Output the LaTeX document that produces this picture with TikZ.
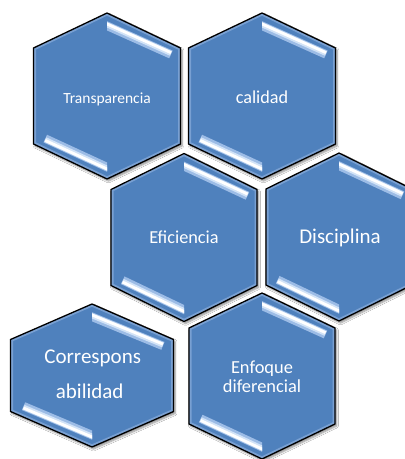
\documentclass[tikz,border=0pt]{standalone}
\usepackage{fontspec}
\setmainfont{Carlito}
\usetikzlibrary{shadows.blur}
\definecolor{hexblue}{HTML}{4F81BD}
\definecolor{rimblue}{HTML}{8CAEDC}
\definecolor{stripeA}{HTML}{9CBCE6}
\definecolor{stripeB}{HTML}{D2E3F7}
\tikzset{
  hexfill/.style={fill=hexblue, blur shadow={shadow xshift=1.5pt, shadow yshift=-2pt, shadow blur steps=6, shadow opacity=45}},
  hexrim/.style={draw=rimblue, line width=5pt, opacity=0.7},
  hexline/.style={draw=black, line width=1.3pt, line join=miter},
  stripeone/.style={line width=8.5pt, draw=stripeA},
  stripetwo/.style={line width=5pt, draw=stripeB},
  stripethree/.style={line width=2.8pt, draw=white},
  hextext/.style={text=white, inner sep=0pt, anchor=base},
}
\newcommand{\hexpath}[5]{({#1},{#2-#4}) -- ({#1+#3},{#2-#5}) -- ({#1+#3},{#2+#5}) -- ({#1},{#2+#4}) -- ({#1-#3},{#2+#5}) -- ({#1-#3},{#2-#5}) -- cycle}
% #1 name, #2 cx, #3 cy, #4 half width, #5 vertex half height, #6 side half height
\newcommand{\hexcell}[6]{%
  \path[hexfill] \hexpath{#2}{#3}{#4}{#5}{#6};
  \begin{scope}
    \clip \hexpath{#2}{#3}{#4}{#5}{#6};
    \path[hexrim] \hexpath{#2}{#3}{#4}{#5}{#6};
    \begin{scope}
      \clip ({#2},{#3-#5-5}) rectangle ({#2+#4},{#3});
      \foreach \st/\o in {stripeone/0,stripetwo/1,stripethree/1.8}{
        \draw[\st] ({#2-0.1*#4},{#3-#5-0.1*(#5-#6)+13-\o}) -- ({#2+0.87*#4},{#3-#5+0.87*(#5-#6)+11-\o});
      }
    \end{scope}
    \begin{scope}
      \clip ({#2-#4},{#3}) rectangle ({#2},{#3+#5+5});
      \foreach \st/\o in {stripeone/0,stripetwo/1,stripethree/1.8}{
        \draw[\st] ({#2-#4+0.16*#4},{#3+#6+0.16*(#5-#6)-11+\o}) -- ({#2-#4+1.1*#4},{#3+#6+1.1*(#5-#6)-12+\o});
      }
    \end{scope}
  \end{scope}
  \path[hexline] \hexpath{#2}{#3}{#4}{#5}{#6};
  \coordinate (#1) at (#2,#3);
}
\begin{document}
\begin{tikzpicture}[x=1pt,y=-1pt]
  \useasboundingbox (0,0) rectangle (405,459);
  \fill[white] (0,0) rectangle (405,459);
  \clip (0,0) rectangle (405,459);
  \hexcell{h1}{107}{96}{73.5}{83}{48}
  \hexcell{h2}{262}{96}{73.5}{83}{48}
  \hexcell{h3}{184}{237.5}{73}{84}{48}
  \hexcell{h4}{339}{237}{73}{84}{48}
  \hexcell{h5}{92}{375.5}{81.5}{71.5}{36}
  \hexcell{h6}{262}{376}{73}{83}{48}
  \node[hextext, font=\fontsize{15.5}{18}\selectfont] (t1) at (107,103) {Transparencia};
  \node[hextext, font=\fontsize{18.2}{22}\selectfont] (t2) at (262,103) {calidad};
  \node[hextext, font=\fontsize{18.3}{22}\selectfont] (t3) at (184,243) {Eficiencia};
  \node[hextext, font=\fontsize{21}{25}\selectfont] (t4) at (340,243) {Disciplina};
  \node[hextext, font=\fontsize{21}{25}\selectfont] (t5a) at (92.7,363) {Correspons};
  \node[hextext, font=\fontsize{21}{25}\selectfont] (t5b) at (89.7,398) {abilidad};
  \node[hextext, font=\fontsize{18.4}{22}\selectfont] (t6a) at (262,373) {Enfoque};
  \node[hextext, font=\fontsize{18.4}{22}\selectfont] (t6b) at (262,392.5) {diferencial};
\end{tikzpicture}
\end{document}
